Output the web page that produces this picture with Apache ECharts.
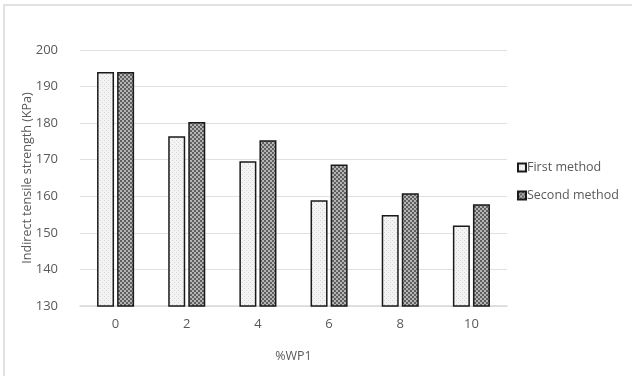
<!DOCTYPE html>
<html>
<head>
<meta charset="utf-8">
<script src="https://cdn.jsdelivr.net/npm/echarts@6/dist/echarts.min.js"></script>
<style>
  html, body { margin: 0; padding: 0; background: #fff; }
  #chart { width: 632px; height: 376px; }
</style>
</head>
<body>
<div id="chart"></div>
<script>
// Percentage of WP1 and measured indirect tensile strength (KPa)
const categories = ['0', '2', '4', '6', '8', '10'];
const firstMethod = [194, 176.4, 169.6, 158.9, 154.9, 152.0];
const secondMethod = [194, 180.3, 175.3, 168.7, 160.8, 157.8];
const seriesNames = ['First method', 'Second method'];

// Small repeating textures used as bar fills
function makePattern(cells, size) {
  const c = document.createElement('canvas');
  c.width = size; c.height = size;
  const ctx = c.getContext('2d');
  for (let y = 0; y < size; y++) {
    for (let x = 0; x < size; x++) {
      ctx.fillStyle = cells(x, y);
      ctx.fillRect(x, y, 1, 1);
    }
  }
  return c;
}
const lightDots = makePattern((x, y) => ((x + y) % 4 === 0 && y % 2 === 0) ? '#d6d6d6' : '#f3f3f3', 4);
const darkChecker = makePattern((x, y) => ((Math.floor(x / 2) + Math.floor(y / 2)) % 2 === 0) ? '#606060' : '#b4b4b4', 4);

const chart = echarts.init(document.getElementById('chart'), null, { renderer: 'canvas' });
const textColor = '#595959';
const font = 'Open Sans';
chart.setOption({
  animation: false,
  backgroundColor: '#ffffff',
  graphic: [{
    type: 'rect',
    shape: { x: 4, y: 5, width: 640, height: 400 },
    style: { fill: 'none', stroke: '#d9d9d9', lineWidth: 1.5 },
    silent: true
  }],
  grid: { left: 80, right: 125, top: 50, bottom: 70 },
  legend: {
    orient: 'vertical',
    left: 512,
    top: 156,
    itemWidth: 8,
    itemHeight: 8,
    itemGap: 15,
    icon: 'rect',
    textStyle: { color: textColor, fontSize: 12.5, fontFamily: font, padding: [0, 0, 0, -4] },
    data: seriesNames
  },
  xAxis: {
    type: 'category',
    data: categories,
    name: '%WP1',
    nameLocation: 'middle',
    nameGap: 44,
    nameTextStyle: { color: textColor, fontSize: 12.5, fontFamily: font },
    axisLine: { lineStyle: { color: '#d9d9d9', width: 1.5 } },
    axisTick: { show: false },
    axisLabel: { color: textColor, fontSize: 13, fontFamily: font, margin: 12 }
  },
  yAxis: {
    type: 'value',
    min: 130,
    max: 200,
    interval: 10,
    name: 'Indirect tensile strength (KPa)',
    nameLocation: 'middle',
    nameGap: 46,
    nameMoveOverlap: false,
    nameTextStyle: { color: textColor, fontSize: 12.5, fontFamily: font },
    axisLine: { show: false },
    axisTick: { show: false },
    axisLabel: { color: textColor, fontSize: 13, fontFamily: font, margin: 22 },
    splitLine: { lineStyle: { color: '#e0e0e0', width: 1.2 } }
  },
  series: [
    {
      name: seriesNames[0],
      type: 'bar',
      data: firstMethod,
      barWidth: 17,
      barGap: '18%',
      itemStyle: { color: { image: lightDots, repeat: 'repeat' }, borderColor: '#1a1a1a', borderWidth: 1.5 }
    },
    {
      name: seriesNames[1],
      type: 'bar',
      data: secondMethod,
      barWidth: 17,
      barGap: '18%',
      itemStyle: { color: { image: darkChecker, repeat: 'repeat' }, borderColor: '#1a1a1a', borderWidth: 1.5 }
    }
  ]
});
</script>
</body>
</html>
